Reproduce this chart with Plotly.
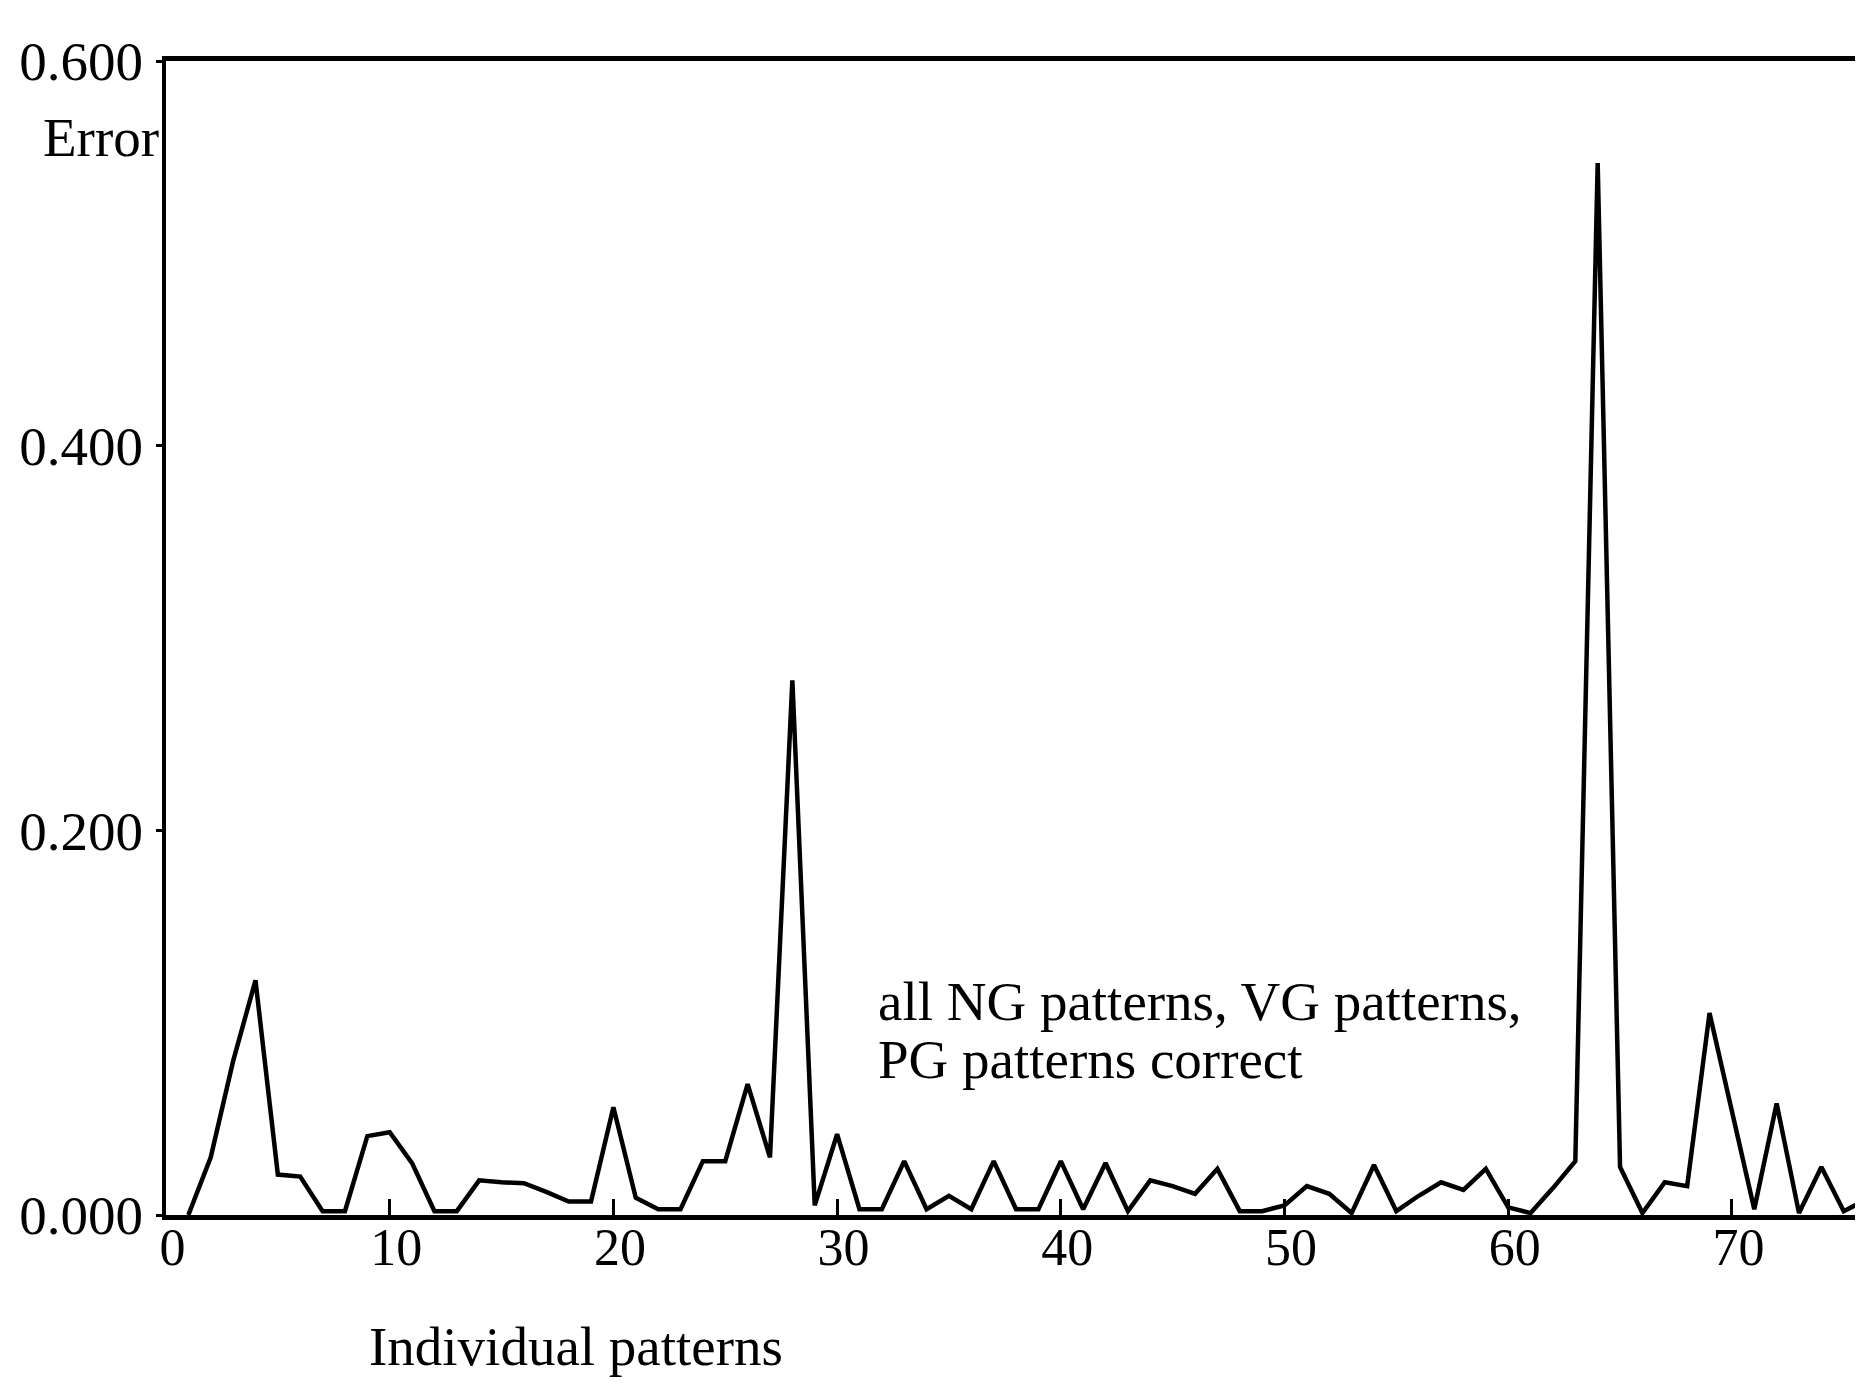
import plotly.graph_objects as go

# Data
patterns = list(range(1, 77))
errors = [
    0.000, 0.030, 0.080, 0.122, 0.021, 0.020, 0.002, 0.002, 0.041, 0.043,
    0.027, 0.002, 0.002, 0.018, 0.017, 0.0165, 0.012, 0.007, 0.007, 0.056,
    0.009, 0.003, 0.003, 0.028, 0.028, 0.068, 0.030, 0.278, 0.005, 0.042,
    0.003, 0.003, 0.028, 0.003, 0.010, 0.003, 0.028, 0.003, 0.003, 0.028,
    0.003, 0.027, 0.002, 0.018, 0.015, 0.011, 0.024, 0.002, 0.002, 0.005,
    0.015, 0.011, 0.001, 0.026, 0.002, 0.010, 0.017, 0.013, 0.024, 0.004,
    0.001, 0.014, 0.028, 0.547, 0.025, 0.001, 0.017, 0.015, 0.105, 0.054,
    0.003, 0.058, 0.001, 0.025, 0.002, 0.008,
]
x_ticks = [0, 10, 20, 30, 40, 50, 60, 70]
x_tick_labels = ["\u00a0" + str(v) for v in x_ticks]
y_ticks = [0.0, 0.2, 0.4, 0.6]
y_tick_labels = ["0.000", "0.200", "0.400", "0.600"]

FONT = "Liberation Serif, Times New Roman, serif"

fig = go.Figure(
    go.Scatter(
        x=patterns,
        y=errors,
        mode="lines",
        line=dict(color="black", width=4.5),
        showlegend=False,
        hoverinfo="skip",
    )
)

fig.update_layout(
    width=1863,
    height=1386,
    margin=dict(l=158, r=6, t=53, b=179, autoexpand=False),
    paper_bgcolor="white",
    plot_bgcolor="white",
    font=dict(family=FONT, color="black", size=55),
)

fig.update_xaxes(
    range=[0, 75.95],
    tickvals=x_ticks,
    ticktext=x_tick_labels,
    ticks="inside",
    ticklen=16,
    tickwidth=3,
    tickcolor="black",
    showline=True,
    linewidth=5,
    linecolor="black",
    mirror=True,
    showgrid=False,
    zeroline=False,
    tickfont=dict(family=FONT, size=52, color="black"),
    ticklabelstandoff=-17,
)

fig.update_yaxes(
    range=[0, 0.6],
    tickvals=y_ticks,
    ticktext=y_tick_labels,
    ticks="outside",
    ticklen=6,
    tickwidth=3,
    tickcolor="black",
    showline=True,
    linewidth=4,
    linecolor="black",
    mirror=True,
    showgrid=False,
    zeroline=False,
    tickfont=dict(family=FONT, size=55, color="black"),
    ticklabelstandoff=2,
)

fig.add_annotation(
    text="Error", xref="paper", x=0, xanchor="right", xshift=-5,
    yref="y", y=0.560, yanchor="middle", showarrow=False,
    font=dict(family=FONT, size=55, color="black"),
)
fig.add_annotation(
    text="all NG patterns, VG patterns,", xref="x", x=31.75, xanchor="left",
    yref="y", y=0.111, yanchor="middle", showarrow=False, align="left",
    font=dict(family=FONT, size=55, color="black"),
)
fig.add_annotation(
    text="PG patterns correct", xref="x", x=31.75, xanchor="left",
    yref="y", y=0.081, yanchor="middle", showarrow=False, align="left",
    font=dict(family=FONT, size=55, color="black"),
)
fig.add_annotation(
    text="Individual patterns", xref="paper", x=0.2413, xanchor="center",
    yref="paper", y=-0.114, yanchor="middle", showarrow=False,
    font=dict(family=FONT, size=55, color="black"),
)

fig.write_html("out.html")
